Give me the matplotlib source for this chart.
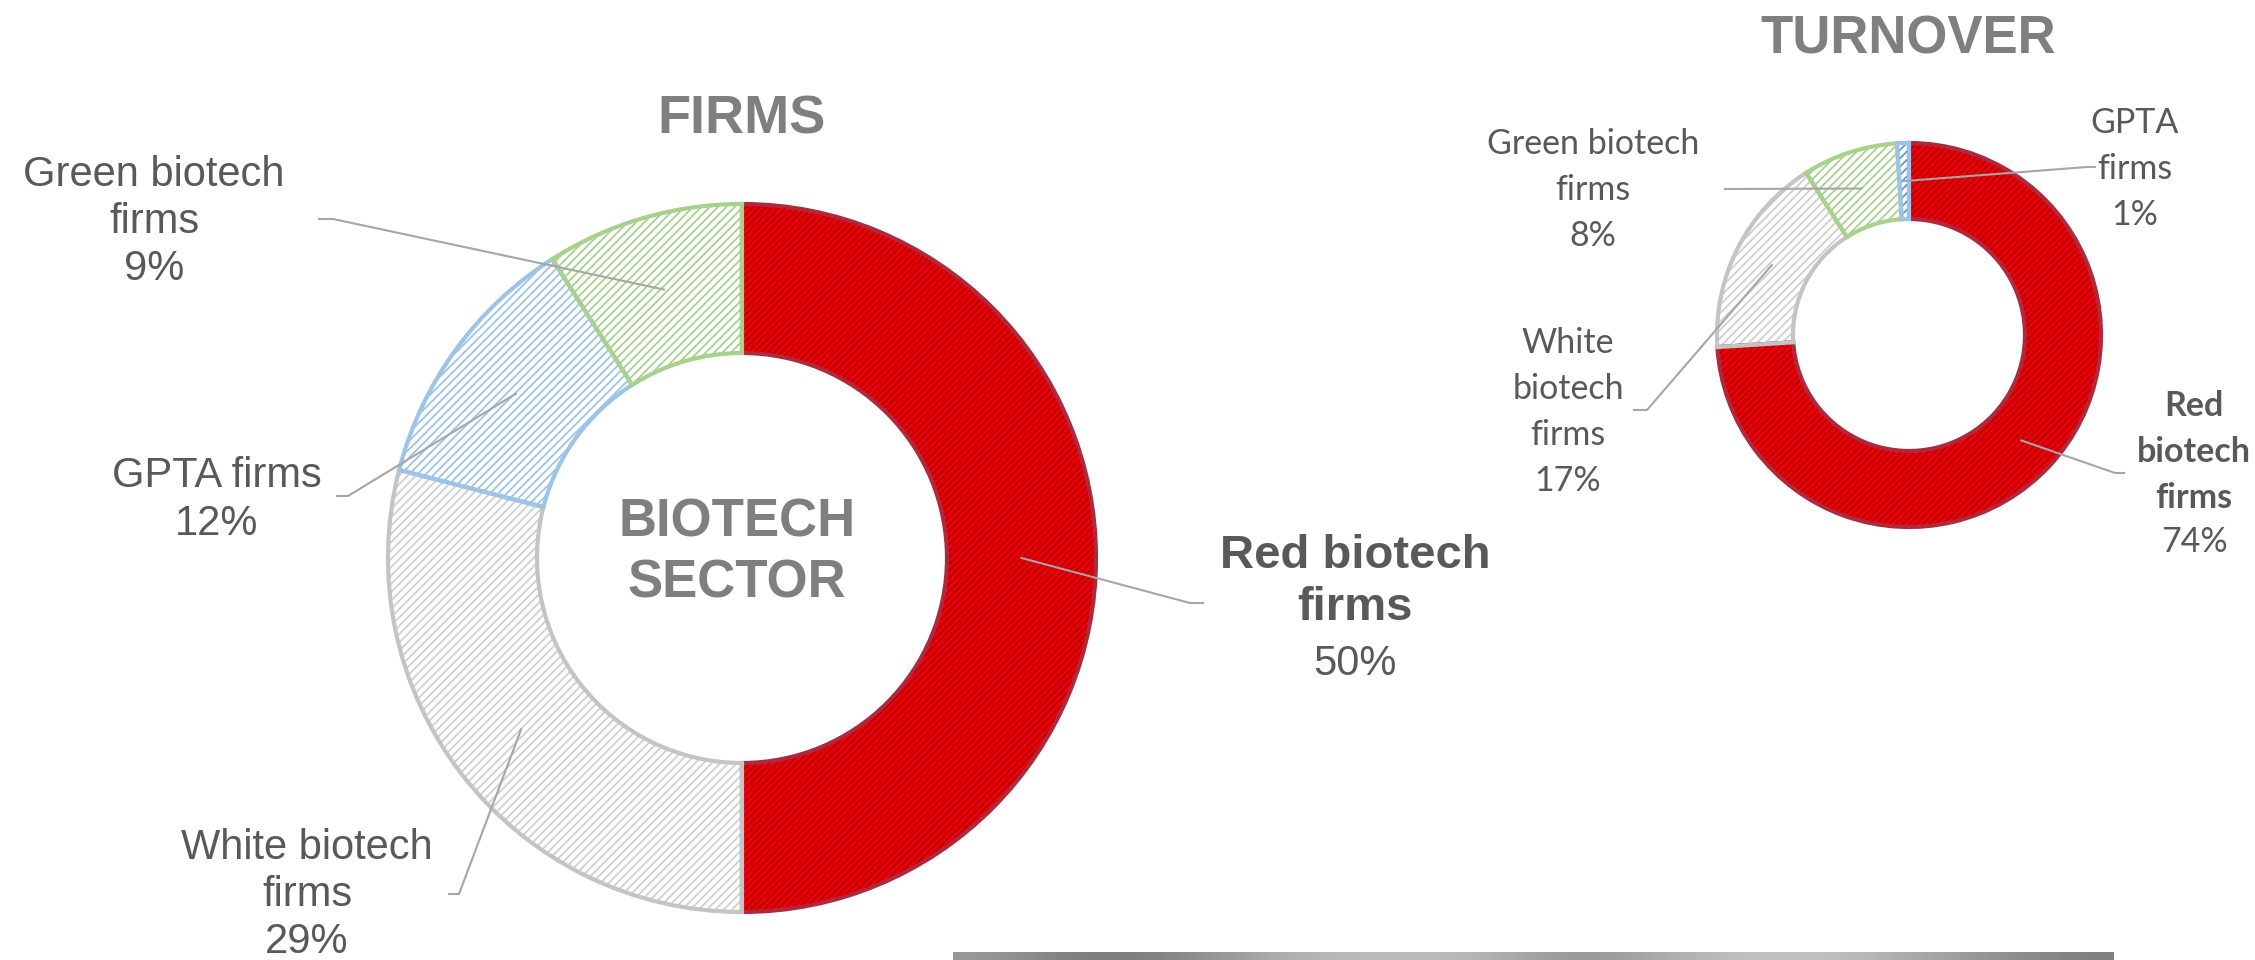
import numpy as np
import matplotlib
matplotlib.use('Agg')
import matplotlib.pyplot as plt
from matplotlib.lines import Line2D

plt.rcParams['hatch.linewidth'] = 1.3

W, H = 2255, 960

# data
categories = ['Red biotech firms', 'White biotech firms', 'GPTA firms', 'Green biotech firms']
firms = [50, 29, 12, 9]
turnover_cats = ['Red biotech firms', 'White biotech firms', 'Green biotech firms', 'GPTA firms']
turnover = [74, 17, 8, 1]

face = {'Red biotech firms': '#F20000', 'White biotech firms': 'white',
        'GPTA firms': 'white', 'Green biotech firms': 'white'}
hatchc = {'Red biotech firms': '#B00010', 'White biotech firms': '#CFCFCF',
          'GPTA firms': '#9DC3E6', 'Green biotech firms': '#A9D18E'}
edgec = {'Red biotech firms': '#B0283C', 'White biotech firms': '#C4C4C4',
         'GPTA firms': '#9DC3E6', 'Green biotech firms': '#A9D18E'}
hatchp = {'Red biotech firms': '/////', 'White biotech firms': '////',
          'GPTA firms': '////', 'Green biotech firms': '////'}

LBL = '#595959'
TTL = '#7F7F7F'


def fx(x):
    return x / W


def fy(y):
    return 1 - y / H


def donut(fig, cx, cy, R, r, cats, vals, lw):
    ax = fig.add_axes([fx(cx - R), fy(cy + R), 2 * R / W, 2 * R / H])
    width = 1 - r / R
    w1, _ = ax.pie(vals, startangle=90, counterclock=False, radius=1,
                   wedgeprops=dict(width=width, linewidth=0))
    for w, c in zip(w1, cats):
        w.set_facecolor(face[c])
        w.set_edgecolor(hatchc[c])
        w.set_hatch(hatchp[c])
        w.set_linewidth(0)
    w2, _ = ax.pie(vals, startangle=90, counterclock=False, radius=1,
                   wedgeprops=dict(width=width, fill=False, linewidth=lw))
    for w, c in zip(w2, cats):
        w.set_edgecolor(edgec[c])
    if 'GPTA firms' in cats and vals[cats.index('GPTA firms')] < 3:
        w1[cats.index('GPTA firms')].set_edgecolor('#5B9BD5')
    ax.set_xlim(-1, 1)
    ax.set_ylim(-1, 1)
    ax.axis('off')
    return ax, w1, 1 - width / 2


def leader(fig, ax, wedge, rmid, pts):
    th = np.deg2rad((wedge.theta1 + wedge.theta2) / 2)
    tx, ty = ax.transData.transform((rmid * np.cos(th), rmid * np.sin(th)))
    tx, ty = fig.transFigure.inverted().transform((tx, ty))
    xs = [fx(p[0]) for p in pts] + [tx]
    ys = [fy(p[1]) for p in pts] + [ty]
    fig.add_artist(Line2D(xs, ys, color='#A6A6A6', lw=1.5, zorder=5))


fig = plt.figure(figsize=(W / 100, H / 100), dpi=100)

# left donut
axL, wl, rmL = donut(fig, 742, 558, 354, 205, categories, firms, 3)
# right donut
axR, wr, rmR = donut(fig, 1909, 335, 192, 116, turnover_cats, turnover, 3)

sans = ['Liberation Sans', 'DejaVu Sans']
cal = ['Lato', 'DejaVu Sans']

fig.text(fx(742), fy(120), 'FIRMS', ha='center', va='center', fontsize=39,
         fontweight='bold', color=TTL, family=sans)
fig.text(fx(1908), fy(40), 'TURNOVER', ha='center', va='center', fontsize=38,
         fontweight='bold', color=TTL, family=sans)
fig.text(fx(737), fy(553), 'BIOTECH\nSECTOR', ha='center', va='center', fontsize=38,
         fontweight='bold', color=TTL, family=sans, linespacing=1.28)

# left labels
fig.text(fx(154), fy(222), 'Green biotech\nfirms\n' + f'{firms[3]}%', ha='center', va='center',
         fontsize=30, color=LBL, family=sans, linespacing=1.24)
fig.text(fx(217), fy(500), 'GPTA firms\n' + f'{firms[2]}%', ha='center', va='center',
         fontsize=30, color=LBL, family=sans, linespacing=1.24)
fig.text(fx(307), fy(895), 'White biotech\nfirms\n' + f'{firms[1]}%', ha='center', va='center',
         fontsize=30, color=LBL, family=sans, linespacing=1.24)
fig.text(fx(1355), fy(582), 'Red biotech\nfirms', ha='center', va='center',
         fontsize=34, fontweight='bold', color=LBL, family=sans, linespacing=1.22)
fig.text(fx(1355), fy(664), f'{firms[0]}%', ha='center', va='center',
         fontsize=30, color=LBL, family=sans)

leader(fig, axL, wl[3], rmL, [(319, 219), (333, 219)])
leader(fig, axL, wl[2], rmL, [(337, 496), (348, 496)])
leader(fig, axL, wl[1], rmL, [(449, 894), (459, 894)])
leader(fig, axL, wl[0], rmL, [(1203, 603), (1190, 603)])

# right labels
fig.text(fx(2135), fy(169), 'GPTA\nfirms\n' + f'{turnover[3]}%', ha='center', va='center',
         fontsize=24.5, color=LBL, family=cal, linespacing=1.55)
fig.text(fx(1593), fy(190), 'Green biotech\nfirms\n' + f'{turnover[2]}%', ha='center', va='center',
         fontsize=24.5, color=LBL, family=cal, linespacing=1.55)
fig.text(fx(1568), fy(412), 'White\nbiotech\nfirms\n' + f'{turnover[1]}%', ha='center', va='center',
         fontsize=24.5, color=LBL, family=cal, linespacing=1.55)
fig.text(fx(2194), fy(452), 'Red\nbiotech\nfirms', ha='center', va='center',
         fontsize=24.5, fontweight='bold', color=LBL, family=cal, linespacing=1.55)
fig.text(fx(2194), fy(542), f'{turnover[0]}%', ha='center', va='center',
         fontsize=24.5, color=LBL, family=cal)

leader(fig, axR, wr[3], rmR, [(2095, 167), (2087, 167)])
leader(fig, axR, wr[2], rmR, [(1725, 189)])
leader(fig, axR, wr[1], rmR, [(1634, 410), (1647, 410)])
leader(fig, axR, wr[0], rmR, [(2124, 473), (2115, 473)])

# bottom grey bar
bar = fig.add_axes([fx(953), fy(960), (2114 - 953) / W, 8 / H])
grad = np.array([[0.6, 0.45, 0.55, 0.7, 0.75, 0.72, 0.55, 0.7, 0.78, 0.72, 0.6, 0.5]])
bar.imshow(grad, cmap='gray', vmin=0, vmax=1, aspect='auto', interpolation='bicubic')
bar.axis('off')

fig.savefig('out.png', dpi=100, facecolor='white')
